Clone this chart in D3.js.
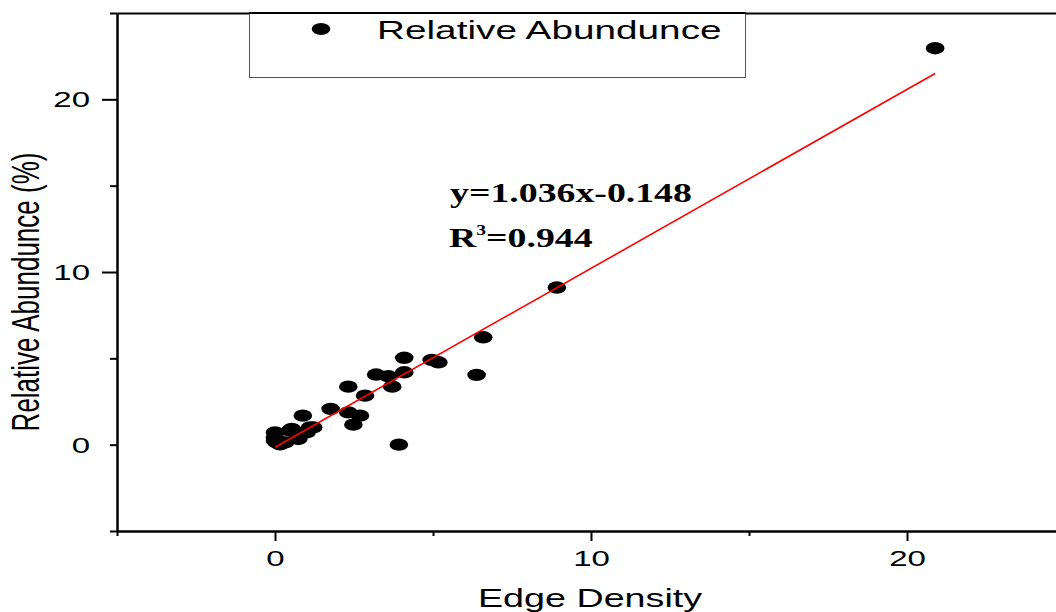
<!DOCTYPE html>
<html>
<head>
<meta charset="utf-8">
<script src="https://cdn.jsdelivr.net/npm/d3@7"></script>
<style>
  html, body { margin: 0; padding: 0; background: #fff; }
  svg { display: block; }
  text { font-family: "Liberation Sans", Arial, sans-serif; }
  text.serif, text.serif tspan { font-family: "Liberation Serif", "Times New Roman", serif; font-weight: bold; }
</style>
</head>
<body>
<div id="chart"></div>
<script>
// ---- data ----
const edgeDensity = [20.89, 8.92, 6.59, 6.38, 5.17, 4.96, 4.09, 4.09, 3.59, 3.20,
                     3.71, 2.32, 2.85, 1.76, 2.32, 2.69, 2.48, 3.92, 0.88, 1.11,
                     1.00, 0.74, 0.53, 0.32, 0.16, 0.00, 0.00, 0.05, 0.00, 0.47, 1.21];
const relAbundance = [22.96, 9.10, 6.22, 4.04, 4.77, 4.91, 5.03, 4.19, 3.96, 4.06,
                      3.36, 3.36, 2.84, 2.07, 1.87, 1.68, 1.16, 0.00, 1.68, 1.00,
                      0.71, 0.33, 0.91, 0.13, 0.02, 0.71, 0.40, 0.13, 0.23, 0.81, 1.00];
const xMajorTicks = [0, 10, 20];
const xMinorTicks = [-5, 5, 15, 25];
const yMajorTicks = [0, 10, 20];
const yMinorTicks = [-5, 5, 15, 25];
const fitSlope = 1.036;
const fitIntercept = -0.148;
const equationText = "y=1.036x-0.148";
const r2Value = "=0.944";
const seriesName = "Relative Abundunce";
const xTitle = "Edge Density";
const yTitle = "Relative Abundunce (%)";

// ---- layout ----
const W = 1056, H = 612;
const SX = 1.45; // horizontal stretch of the reference's text
const svg = d3.select("#chart").append("svg").attr("width", W).attr("height", H);

const x = d3.scaleLinear().domain([-5, 25]).range([117, 1065]);
const y = d3.scaleLinear().domain([-5, 25]).range([531, 13]);

// ---- axes ----
function styleAxis(g) {
  g.selectAll("path.domain").attr("stroke", "#000").attr("stroke-width", 2);
  g.selectAll(".tick line").attr("stroke", "#000").attr("stroke-width", 2);
}
// bottom axis
const gxMinor = svg.append("g").attr("transform", `translate(0,${y(-5)})`)
  .call(d3.axisBottom(x).tickValues(xMinorTicks).tickSize(5).tickSizeOuter(0).tickFormat(""));
styleAxis(gxMinor);
const gx = svg.append("g").attr("transform", `translate(0,${y(-5)})`)
  .call(d3.axisBottom(x).tickValues(xMajorTicks).tickSize(10).tickSizeOuter(0).tickFormat(d3.format("d")));
styleAxis(gx);
gx.selectAll(".tick text")
  .attr("y", 0).attr("dy", 0)
  .attr("font-size", 22).attr("fill", "#000")
  .attr("transform", `translate(0,${566 - y(-5)}) scale(1.5,1)`);

// top axis line (no ticks)
svg.append("g").attr("transform", `translate(0,${y(25)})`)
  .call(d3.axisTop(x).tickValues([]).tickSizeOuter(0))
  .call(styleAxis);

// left axis
const gyMinor = svg.append("g").attr("transform", `translate(${x(-5)},0)`)
  .call(d3.axisLeft(y).tickValues(yMinorTicks).tickSize(7).tickSizeOuter(0).tickFormat(""));
styleAxis(gyMinor);
const gy = svg.append("g").attr("transform", `translate(${x(-5)},0)`)
  .call(d3.axisLeft(y).tickValues(yMajorTicks).tickSize(15).tickSizeOuter(0).tickFormat(d3.format("d")));
styleAxis(gy);
gy.selectAll(".tick line").attr("x2", d => d === 0 ? -7 : -15);
gy.selectAll(".tick text")
  .attr("x", 0).attr("dy", 0)
  .attr("dominant-baseline", "central")
  .attr("text-anchor", "end")
  .attr("font-size", 22).attr("fill", "#000")
  .attr("transform", `translate(-27,0) scale(1.5,1)`);

// axis titles
svg.append("text")
  .attr("transform", `translate(${(x(0) + x(20)) / 2 - 1},607) scale(${SX},1)`)
  .attr("text-anchor", "middle").attr("font-size", 26).attr("fill", "#000")
  .text(xTitle);
svg.append("text")
  .attr("transform", `translate(39,292) scale(1.5,1) rotate(-90)`)
  .attr("text-anchor", "middle").attr("font-size", 26).attr("fill", "#000")
  .text(yTitle);

// ---- fit line ----
const xMin = d3.min(edgeDensity), xMax = d3.max(edgeDensity);

// ---- points ----
const pts = edgeDensity.map((d, i) => ({ x: d, y: relAbundance[i] }));
svg.append("g").selectAll("ellipse").data(pts).join("ellipse")
  .attr("cx", d => x(d.x)).attr("cy", d => y(d.y))
  .attr("rx", 9.3).attr("ry", 6.2).attr("fill", "#000");

svg.append("line")
  .attr("x1", x(xMin)).attr("y1", y(fitSlope * xMin + fitIntercept))
  .attr("x2", x(xMax)).attr("y2", y(fitSlope * xMax + fitIntercept))
  .attr("stroke", "#ff0000").attr("stroke-width", 1.6);

// ---- equation ----
svg.append("text").attr("class", "serif")
  .attr("transform", `translate(450,202) scale(1.4,1)`)
  .attr("font-size", 27).attr("fill", "#000").text(equationText);
const r2 = svg.append("text").attr("class", "serif")
  .attr("transform", `translate(449,247) scale(1.4,1)`)
  .attr("font-size", 27).attr("fill", "#000");
r2.append("tspan").text("R");
r2.append("tspan").attr("font-size", 14).attr("dy", -12).text("3");
r2.append("tspan").attr("dy", 12).text(r2Value);

// ---- legend ----
svg.append("rect").attr("x", 249.5).attr("y", 13).attr("width", 496).attr("height", 64.5)
  .attr("fill", "#fff").attr("stroke", "#555").attr("stroke-width", 1);
svg.append("line").attr("x1", 249).attr("x2", 746).attr("y1", 13).attr("y2", 13)
  .attr("stroke", "#000").attr("stroke-width", 2);
svg.append("ellipse").attr("cx", 321).attr("cy", 29).attr("rx", 9.3).attr("ry", 6)
  .attr("fill", "#000");
svg.append("text").attr("transform", `translate(377,30) scale(1.49,1)`)
  .attr("dominant-baseline", "central").attr("font-size", 26).attr("fill", "#000")
  .text(seriesName);
</script>
</body>
</html>
